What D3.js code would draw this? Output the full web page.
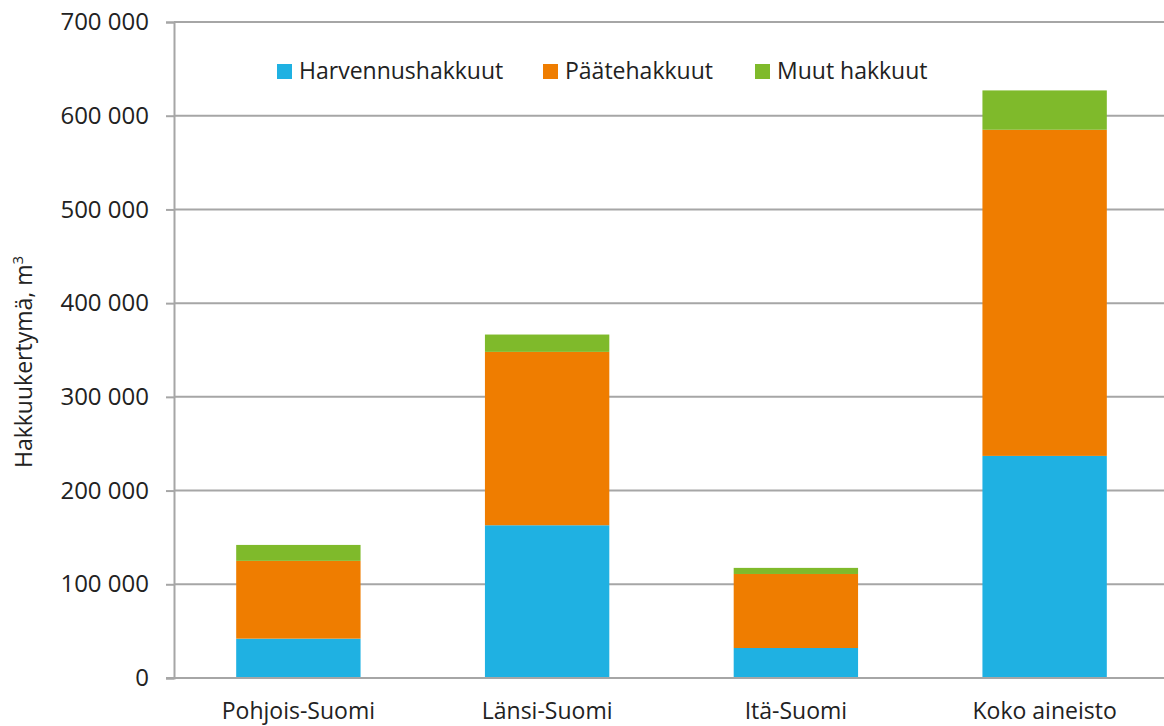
<!DOCTYPE html>
<html>
<head>
<meta charset="utf-8">
<script src="https://cdn.jsdelivr.net/npm/d3@7"></script>
<style>
  body { margin: 0; background: #fff; }
  svg { display: block; font-family: "Open Sans", Lato, sans-serif; }
</style>
</head>
<body>
<div class="chart"></div>
<script>
// data (m3)
var regions = ["Pohjois-Suomi", "Länsi-Suomi", "Itä-Suomi", "Koko aineisto"];
var harvennus = [42000, 163000, 32000, 237000];
var paate = [83000, 185000, 79000, 348000];
var muut = [17000, 18500, 6500, 42000];
var seriesNames = ["Harvennushakkuut", "Päätehakkuut", "Muut hakkuut"];
var yTicks = [0, 100000, 200000, 300000, 400000, 500000, 600000, 700000];

var colors = ["#1fb1e2", "#ef7d00", "#7fba2b"];

var W = 1164, H = 726;
var margin = {top: 22, right: -5, bottom: 48, left: 174};
var width = W - margin.left - margin.right;
var height = H - margin.top - margin.bottom;

var rows = regions.map(function(r, i) {
  return {region: r, h: harvennus[i], p: paate[i], m: muut[i]};
});
var stack = d3.stack().keys(["h", "p", "m"]);
var layers = stack(rows);

var x = d3.scaleBand().domain(regions).range([0, width]).paddingInner(0.5).paddingOuter(0.25);
var y = d3.scaleLinear().domain([0, 700000]).range([height, 0]);

var fmt = function(v) { return d3.format(",")(v).replace(/,/g, " "); };

var svg = d3.select(".chart").append("svg")
    .attr("width", W)
    .attr("height", H);
var g = svg.append("g")
    .attr("transform", "translate(" + margin.left + "," + margin.top + ")");

// gridlines
g.selectAll(".grid")
    .data(yTicks.filter(function(d) { return d > 0; }))
  .enter().append("line")
    .attr("x1", 0).attr("x2", width)
    .attr("y1", function(d) { return y(d); })
    .attr("y2", function(d) { return y(d); })
    .attr("stroke", "#a6a6a6")
    .attr("stroke-width", 2);

// bars
g.selectAll(".layer")
    .data(layers)
  .enter().append("g")
    .attr("fill", function(d, i) { return colors[i]; })
  .selectAll("rect")
    .data(function(d) { return d; })
  .enter().append("rect")
    .attr("x", function(d) { return x(d.data.region); })
    .attr("width", x.bandwidth())
    .attr("y", function(d) { return y(d[1]); })
    .attr("height", function(d) { return y(d[0]) - y(d[1]); });

// y axis
var yAxis = g.append("g")
    .call(d3.axisLeft(y).tickValues(yTicks).tickFormat(fmt).tickSize(8).tickPadding(17));
yAxis.select(".domain").attr("stroke", "#a6a6a6").attr("stroke-width", 2);
yAxis.selectAll(".tick line").attr("stroke", "#a6a6a6").attr("stroke-width", 2);
yAxis.selectAll("text").attr("font-size", 24).attr("fill", "#222")
    .attr("font-family", "'Open Sans', sans-serif");

// x axis baseline
g.append("line")
    .attr("x1", -8).attr("x2", width)
    .attr("y1", y(0)).attr("y2", y(0))
    .attr("stroke", "#a6a6a6").attr("stroke-width", 2);

g.selectAll(".xlabel")
    .data(regions)
  .enter().append("text")
    .attr("x", function(d) { return x(d) + x.bandwidth() / 2; })
    .attr("y", height + 41)
    .attr("text-anchor", "middle")
    .attr("font-size", 23)
    .attr("fill", "#222")
    .text(function(d) { return d; });

// y title
var title = svg.append("text")
    .attr("transform", "translate(32,362) rotate(-90)")
    .attr("text-anchor", "middle")
    .attr("font-size", 23)
    .attr("fill", "#222");
title.append("tspan").text("Hakkuukertymä, m");
title.append("tspan").attr("font-size", 15).attr("dy", -9).text("3");

// legend
var legendX = [277, 543, 755];
var legend = svg.selectAll(".legend")
    .data(seriesNames)
  .enter().append("g")
    .attr("transform", function(d, i) { return "translate(" + legendX[i] + ",64)"; });
legend.append("rect")
    .attr("width", 15).attr("height", 15)
    .attr("fill", function(d, i) { return colors[i]; });
legend.append("text")
    .attr("x", 22).attr("y", 15)
    .attr("font-size", 23)
    .attr("fill", "#222")
    .text(function(d) { return d; });
</script>
</body>
</html>
